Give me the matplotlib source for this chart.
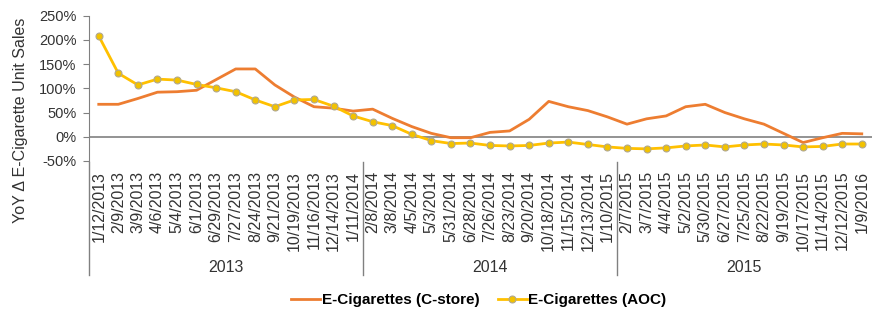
import matplotlib.pyplot as plt
from matplotlib.lines import Line2D
import matplotlib.transforms as mtransforms

plt.rcParams['font.family'] = ['Liberation Sans', 'DejaVu Sans']

weeks = ['1/12/2013', '2/9/2013', '3/9/2013', '4/6/2013', '5/4/2013', '6/1/2013',
         '6/29/2013', '7/27/2013', '8/24/2013', '9/21/2013', '10/19/2013', '11/16/2013',
         '12/14/2013', '1/11/2014', '2/8/2014', '3/8/2014', '4/5/2014', '5/3/2014',
         '5/31/2014', '6/28/2014', '7/26/2014', '8/23/2014', '9/20/2014', '10/18/2014',
         '11/15/2014', '12/13/2014', '1/10/2015', '2/7/2015', '3/7/2015', '4/4/2015',
         '5/2/2015', '5/30/2015', '6/27/2015', '7/25/2015', '8/22/2015', '9/19/2015',
         '10/17/2015', '11/14/2015', '12/12/2015', '1/9/2016']

cstore = [67, 67, 79, 92, 93, 96, 118, 140, 140, 107,
          82, 62, 59, 53, 57, 38, 21, 7, -2, -2,
          9, 12, 36, 73, 62, 54, 41, 26, 37, 43,
          62, 67, 50, 37, 26, 7, -12, -2, 7, 6]

aoc = [208, 131, 107, 119, 117, 108, 101, 93, 76, 62,
       76, 77, 63, 43, 31, 23, 5, -8, -14, -13,
       -18, -19, -18, -13, -11, -16, -21, -24, -25, -23,
       -19, -17, -21, -17, -15, -17, -21, -20, -15, -15]

years = ['2013', '2014', '2015']
year_counts = [14, 13, 13]

txt = '#333333'
fig = plt.figure(figsize=(8.74, 3.2), dpi=100)
ax = fig.add_axes([0.1018, 0.497, 0.8954, 0.454])

x = list(range(len(weeks)))
ax.axhline(0, color='#808080', lw=1.2, zorder=1)
ax.plot(x, cstore, color='#ED7D31', lw=2, label='E-Cigarettes (C-store)', zorder=2)
ax.plot(x, aoc, color='#FFC000', lw=2, marker='o', markersize=5,
        markerfacecolor='#F2C200', markeredgecolor='#B0A890', markeredgewidth=0.8,
        label='E-Cigarettes (AOC)', zorder=3)

ax.set_xlim(-0.5, len(weeks) - 0.5)
ax.set_ylim(-50, 250)
ax.set_yticks(range(-50, 251, 50))
ax.set_yticklabels([f'{v}%' for v in range(-50, 251, 50)], fontsize=10.5, color=txt)
ax.set_xticks(x)
ax.set_xticklabels(weeks, rotation=90, fontsize=11.5, color=txt, va='top')
ax.tick_params(axis='x', length=0, pad=7)
ax.tick_params(axis='y', length=4, color='#808080', pad=5)
for s in ['top', 'right', 'bottom']:
    ax.spines[s].set_visible(False)
ax.spines['left'].set_color('#808080')

# y label sits lower than the axes centre in the original
fig.text(0.023, 0.625, 'YoY Δ E-Cigarette Unit Sales', rotation=90,
         ha='center', va='center', fontsize=11.5, color=txt)

# year grouping below the week labels
trans = mtransforms.blended_transform_factory(ax.transData, ax.transAxes)
start = -0.5
for yr, n in zip(years, year_counts):
    ax.add_line(Line2D([start, start], [-0.005, -0.785], transform=trans,
                       color='#808080', lw=1, clip_on=False))
    ax.text(start + n / 2, -0.73, yr, transform=trans, ha='center', va='center',
            fontsize=11.5, color=txt)
    start += n

fig.legend(loc='center', bbox_to_anchor=(0.548, 0.0625), ncol=2, frameon=False,
           prop={'weight': 'bold', 'size': 11}, handlelength=1.9,
           handletextpad=0.1, columnspacing=1.2)

fig.savefig('out.png', dpi=100)
